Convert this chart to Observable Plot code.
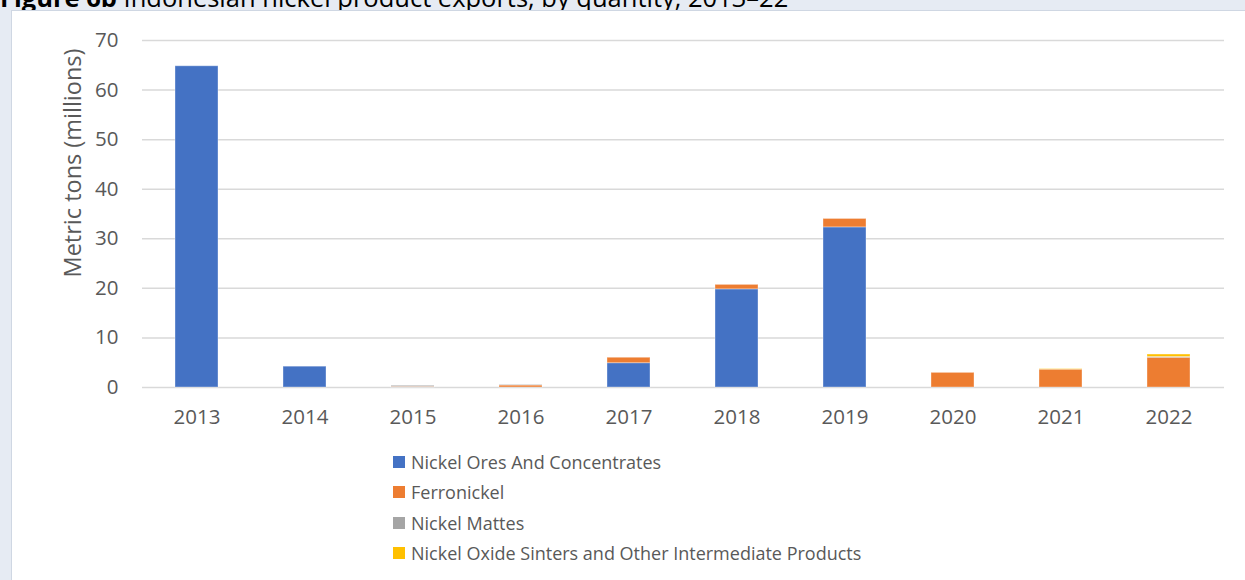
<!DOCTYPE html>
<html>
<head>
<meta charset="utf-8">
<script src="https://cdn.jsdelivr.net/npm/d3@7"></script>
<script src="https://cdn.jsdelivr.net/npm/@observablehq/plot@0.6"></script>
<style>
  html, body { margin: 0; padding: 0; }
  body { width: 1245px; height: 580px; overflow: hidden; background: #e6ebf3; position: relative; font-family: "Open Sans", sans-serif; }
  #title { position: absolute; left: 0; top: -15px; font-size: 25.5px; line-height: 1; color: #000; white-space: nowrap; z-index: 2; }
  #panel { position: absolute; left: 11px; top: 10px; right: 0; bottom: 0; background: #fff; border-left: 1px solid #cfd7e3; border-top: 1px solid #cfd7e3; z-index: 3; }
  #chart { position: absolute; left: 0; top: 0; z-index: 4; }
  #ylabel { position: absolute; left: 72px; top: 163px; transform: translate(-50%, -50%) rotate(-90deg); font-size: 23.5px; color: #595959; white-space: nowrap; z-index: 5; }
  #legend { position: absolute; left: 393px; top: 447px; z-index: 5; }
  .item { display: flex; align-items: center; height: 30.3px; font-size: 18px; color: #595959; white-space: nowrap; }
  .sw { width: 12px; height: 12px; margin-right: 6px; flex: none; }
</style>
</head>
<body>
<div id="title"><b>Figure 6b</b> Indonesian nickel product exports, by quantity, 2013–22</div>
<div id="panel"></div>
<div id="chart"></div>
<div id="ylabel">Metric tons (millions)</div>
<div id="legend"></div>
<script>
const years = ["2013", "2014", "2015", "2016", "2017", "2018", "2019", "2020", "2021", "2022"];
const seriesNames = ["Nickel Ores And Concentrates", "Ferronickel", "Nickel Mattes", "Nickel Oxide Sinters and Other Intermediate Products"];
const seriesColors = ["#4472C4", "#ED7D31", "#A5A5A5", "#FFC000"];
const oresValues     = [64.8, 4.2, 0.05, 0.0, 4.9, 19.8, 32.3, 0.0, 0.0, 0.0];
const ferroValues    = [0.0, 0.0, 0.1, 0.4, 1.1, 0.9, 1.7, 2.95, 3.6, 6.0];
const mattesValues   = [0.0, 0.0, 0.2, 0.1, 0.0, 0.0, 0.0, 0.0, 0.0, 0.15];
const sinterValues   = [0.0, 0.0, 0.0, 0.0, 0.0, 0.0, 0.0, 0.0, 0.1, 0.5];
const yTicks = [0, 10, 20, 30, 40, 50, 60, 70];

const seriesValues = [oresValues, ferroValues, mattesValues, sinterValues];
const rows = [];
seriesNames.forEach((s, i) => {
  years.forEach((yr, j) => rows.push({year: yr, series: s, value: seriesValues[i][j]}));
});

const chart = Plot.plot({
  width: 1245,
  height: 440,
  marginLeft: 142,
  marginRight: 21,
  marginTop: 40,
  marginBottom: 53,
  style: {fontFamily: "'Open Sans', sans-serif", fontSize: "20.5px", color: "#595959", background: "transparent"},
  x: {domain: years, paddingInner: 0.6, paddingOuter: 0.3, label: null, tickSize: 0, tickPadding: 22},
  y: {domain: [0, 70], ticks: yTicks, label: null, tickSize: 0, tickPadding: 24},
  color: {domain: seriesNames, range: seriesColors},
  marks: [
    Plot.gridY(yTicks, {stroke: "#d9d9d9", strokeOpacity: 1, strokeWidth: 1.5}),
    Plot.barY(rows, Plot.stackY({order: seriesNames}, {x: "year", y: "value", fill: "series", stroke: "#ffffff", strokeOpacity: 0.35, strokeWidth: 1})),
    Plot.axisX({tickSize: 0, tickPadding: 22, fill: "#595959"}),
    Plot.axisY(yTicks, {tickSize: 0, tickPadding: 24, fill: "#595959"})
  ]
});
document.getElementById("chart").appendChild(chart);

const legend = document.getElementById("legend");
seriesNames.forEach((s, i) => {
  const item = document.createElement("div");
  item.className = "item";
  const sw = document.createElement("span");
  sw.className = "sw";
  sw.style.background = seriesColors[i];
  const t = document.createElement("span");
  t.textContent = s;
  item.appendChild(sw);
  item.appendChild(t);
  legend.appendChild(item);
});
</script>
</body>
</html>
